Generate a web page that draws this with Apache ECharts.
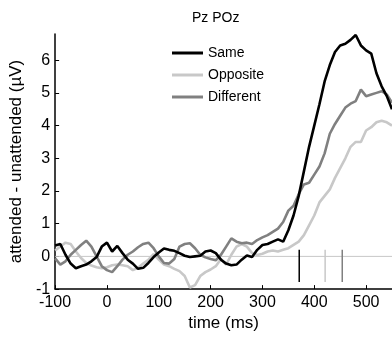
<!DOCTYPE html>
<html><head><meta charset="utf-8">
<script src="https://cdn.jsdelivr.net/npm/echarts@6/dist/echarts.min.js"></script>
<style>html,body{margin:0;padding:0;background:#fff;overflow:hidden}#c{width:392px;height:337px}</style>
</head><body><div id="c"></div>
<script>
// time axis (ms), one sample every 10 ms from -100 to 550
const times = [-100,-90,-80,-70,-60,-50,-40,-30,-20,-10,0,10,20,30,40,50,60,70,80,90,100,110,120,130,140,150,160,170,180,190,200,210,220,230,240,250,260,270,280,290,300,310,320,330,340,350,360,370,380,390,400,410,420,430,440,450,460,470,480,490,500,510,520,530,540,550];
const same = [0.33,0.38,0.05,-0.22,-0.36,-0.3,-0.25,-0.15,-0.02,0.3,0.42,0.15,0.32,0.1,-0.1,-0.22,-0.38,-0.35,-0.2,-0.02,0.12,0.24,0.2,0.17,0.1,0.02,-0.02,0.0,0.02,0.15,0.18,0.1,-0.1,-0.22,-0.27,-0.25,-0.1,0.03,-0.02,0.2,0.35,0.38,0.45,0.52,0.45,0.8,1.25,1.85,2.6,3.35,4.0,4.65,5.35,5.85,6.25,6.45,6.5,6.62,6.77,6.45,6.3,6.2,5.6,5.2,4.9,4.5];
const opposite = [0.18,0.3,0.42,0.38,0.15,-0.05,-0.2,-0.28,-0.33,-0.36,-0.33,-0.27,-0.25,-0.27,-0.3,-0.42,-0.35,-0.22,-0.1,0.07,-0.1,-0.25,-0.3,-0.38,-0.45,-0.6,-0.95,-0.88,-0.6,-0.48,-0.4,-0.3,-0.08,-0.25,0.05,0.3,0.38,0.3,0.1,0.04,0.08,0.15,0.18,0.15,0.2,0.25,0.35,0.45,0.65,0.95,1.25,1.65,1.85,2.05,2.4,2.7,3.0,3.35,3.5,3.5,3.85,3.95,4.1,4.15,4.1,4.0];
const different = [-0.06,-0.25,-0.15,0.05,0.2,0.35,0.48,0.3,0.0,-0.3,-0.42,-0.48,-0.3,-0.1,0.05,0.15,0.28,0.38,0.42,0.25,0.0,-0.2,-0.22,-0.08,0.3,0.38,0.4,0.25,0.05,-0.03,-0.08,-0.12,0.05,0.3,0.55,0.45,0.4,0.42,0.38,0.5,0.58,0.65,0.75,0.85,1.05,1.4,1.55,1.9,2.2,2.25,2.5,2.75,3.15,3.75,4.05,4.3,4.55,4.67,4.75,5.1,4.9,4.95,5.0,5.05,4.95,4.7];
const seriesNames = ['Same','Opposite','Different'];
const seriesColors = ['#000000','#c8c8c8','#808080'];
// latency markers (ms), drawn from markerTop to markerBottom (µV)
const markerTimes = [371, 421, 454];
const markerTop = 0.2, markerBottom = -0.78;
const xTicks = [-100,0,100,200,300,400,500];
const yTicks = [-1,0,1,2,3,4,5,6];

const values = [same, opposite, different];
const font = 'Liberation Sans, Arial, Helvetica, sans-serif';
const lineSeries = values.map((v, i) => ({
  name: seriesNames[i], type: 'line', showSymbol: false, symbol: 'none',
  data: times.map((t, k) => [t, v[k]]),
  lineStyle: {width: 2.6, color: seriesColors[i]}, itemStyle: {color: seriesColors[i]},
  z: 5 + (i === 0 ? 3 : (i === 2 ? 2 : 1)), silent: true
}));
const markerSeries = markerTimes.map((t, i) => ({
  type: 'line', symbol: 'none', silent: true, z: 4,
  data: [[t, markerTop], [t, markerBottom]],
  lineStyle: {width: 1.5, color: seriesColors[i]}
}));
const zeroSeries = {
  type: 'line', symbol: 'none', silent: true, z: 1,
  data: [[times[0], 0], [times[times.length - 1], 0]],
  lineStyle: {width: 1, color: '#c8c8c8'}
};

const chart = echarts.init(document.getElementById('c'), null, {renderer: 'canvas'});
chart.setOption({
  animation: false,
  backgroundColor: '#ffffff',
  title: {text: 'Pz POz', left: 192, top: 11, padding: 0,
    textStyle: {fontFamily: font, fontSize: 14, fontWeight: 'normal', color: '#000', lineHeight: 15}},
  legend: {
    data: seriesNames, orient: 'vertical', left: 172, top: 45, padding: 0,
    icon: 'rect', itemWidth: 31, itemHeight: 3, itemGap: 6,
    textStyle: {fontFamily: font, fontSize: 14, color: '#000', lineHeight: 16}
  },
  grid: {left: 52, right: 0, top: 34, bottom: 42, containLabel: false},
  xAxis: {
    type: 'value', min: -100, max: 550, interval: 100,
    name: 'time (ms)', nameLocation: 'middle', nameGap: 20,
    nameTextStyle: {fontFamily: font, fontSize: 17, color: '#000'},
    axisLine: {show: true, onZero: false, lineStyle: {color: '#000', width: 1.5}},
    axisTick: {show: true, inside: true, length: 4, customValues: xTicks, lineStyle: {color: '#000', width: 1}},
    axisLabel: {customValues: xTicks, margin: 5, fontFamily: font, fontSize: 16, color: '#000'},
    splitLine: {show: false}
  },
  yAxis: {
    type: 'value', min: -1, max: 6.8, interval: 1,
    name: 'attended - unattended (µV)', nameLocation: 'middle', nameGap: 26,
    nameTextStyle: {fontFamily: font, fontSize: 17, color: '#000'},
    axisLine: {show: true, onZero: false, lineStyle: {color: '#000', width: 1.5}},
    axisTick: {show: true, inside: true, length: 4, customValues: yTicks, lineStyle: {color: '#000', width: 1}},
    axisLabel: {customValues: yTicks, margin: 5, fontFamily: font, fontSize: 16, color: '#000'},
    splitLine: {show: false}
  },
  series: [zeroSeries, ...markerSeries, lineSeries[1], lineSeries[2], lineSeries[0]]
});
</script></body></html>
